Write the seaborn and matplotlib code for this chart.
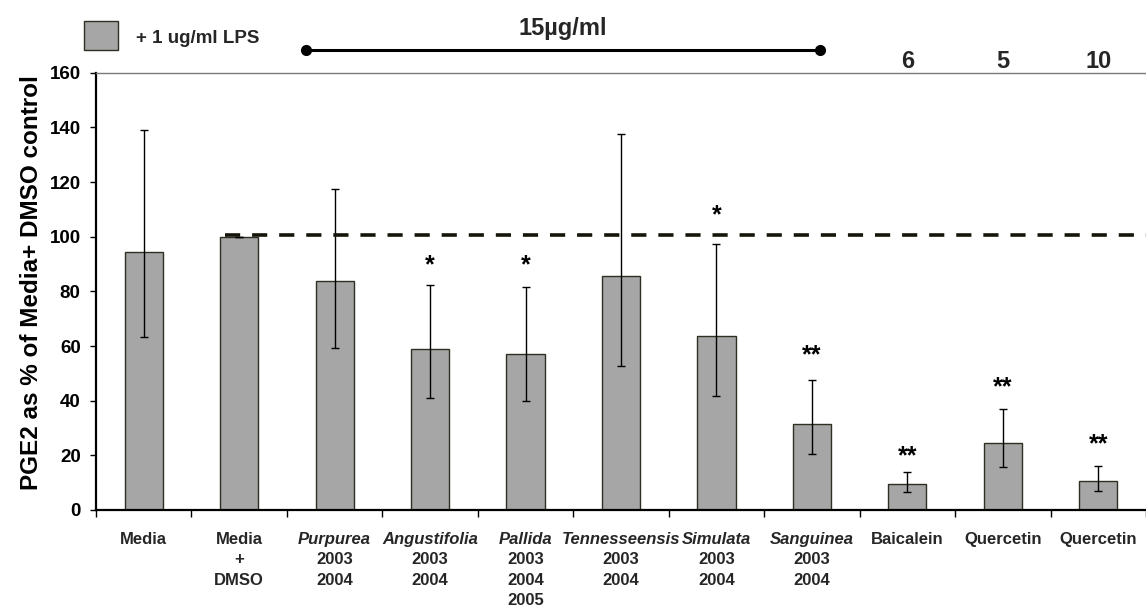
import numpy as np
import pandas as pd
import matplotlib
matplotlib.use("Agg")
import matplotlib.pyplot as plt
import matplotlib.transforms as mtransforms
from matplotlib.patches import Rectangle
from matplotlib.lines import Line2D
import seaborn as sns

# ---------------- data ----------------
categories = ["Media", "Media + DMSO", "Purpurea", "Angustifolia", "Pallida",
              "Tennesseensis", "Simulata", "Sanguinea", "Baicalein",
              "Quercetin 5", "Quercetin 10"]
label_main = ["Media", "Media", "Purpurea", "Angustifolia", "Pallida",
              "Tennesseensis", "Simulata", "Sanguinea", "Baicalein",
              "Quercetin", "Quercetin"]
label_italic = [False, False, True, True, True, True, True, True, False, False, False]
label_sub = [[], ["+", "DMSO"], ["2003", "2004"], ["2003", "2004"],
             ["2003", "2004", "2005"], ["2003", "2004"], ["2003", "2004"],
             ["2003", "2004"], [], [], []]
values = [94.5, 100.0, 83.9, 58.8, 57.0, 85.6, 63.8, 31.5, 9.6, 24.5, 10.6]
err_upper = [139.0, 100.0, 117.3, 82.3, 81.5, 137.6, 97.2, 47.7, 13.8, 37.1, 16.1]
err_lower = [63.4, 100.0, 59.4, 41.1, 39.8, 52.8, 41.7, 20.4, 6.5, 15.7, 6.8]
significance = ["", "", "", "*", "*", "", "*", "**", "**", "**", "**"]
sig_height = [0, 0, 0, 89.5, 89.5, 0, 108.0, 56.5, 19.5, 45.0, 24.0]
dose_labels = {"Baicalein": "6", "Quercetin 5": "5", "Quercetin 10": "10"}
extract_dose = "15µg/ml"
legend_label = "+ 1 ug/ml LPS"
reference_value = 100.5
y_ticks = [0, 20, 40, 60, 80, 100, 120, 140, 160]
y_label = "PGE2 as % of Media+ DMSO control"

# ---------------- style ----------------
sns.set_theme(style="white")
plt.rcParams["font.family"] = ["Liberation Sans", "DejaVu Sans"]
plt.rcParams["font.weight"] = "bold"

W, H = 1146, 609
fig = plt.figure(figsize=(W / 100, H / 100), dpi=100)
ax = fig.add_axes([96 / W, 1 - 510 / H, (1146 - 96) / W, (510 - 72.7) / H])

bar_color = "#a6a6a6"
edge_color = "#2e2e22"

df = pd.DataFrame({"cat": categories, "val": values})
sns.barplot(data=df, x="cat", y="val", order=categories, color=bar_color,
            width=0.4, edgecolor=edge_color, linewidth=1.0, saturation=1,
            errorbar=None, ax=ax)

xpos = np.arange(len(categories))
vals = np.array(values)
yerr = np.vstack([vals - np.array(err_lower), np.array(err_upper) - vals])
ax.errorbar(xpos, vals, yerr=yerr, fmt="none", ecolor="black",
            elinewidth=1.0, capsize=3, capthick=1.0, zorder=4)

# reference dashed line
ax.hlines(reference_value, 0.85, len(categories) - 0.5, colors="#15150a",
          linewidth=2.6, linestyles=(0, (4.2, 3.3)), zorder=5)

# significance markers
for i, (s, h) in enumerate(zip(significance, sig_height)):
    if s:
        ax.text(i, h, s, ha="center", va="center", fontsize=18,
                fontweight="bold", color="black")

ax.set_xlim(-0.5, len(categories) - 0.5)
ax.set_ylim(0, 160)
ax.set_yticks(y_ticks)
ax.set_yticklabels([str(t) for t in y_ticks], fontsize=13.5, fontweight="bold")
ax.set_xticks(xpos)
ax.set_xticklabels([])
ax.tick_params(axis="x", which="major", length=0)
ax.set_xticks(np.arange(-0.5, len(categories)), minor=True)
ax.tick_params(axis="x", which="minor", direction="out", length=5, width=1,
               color="black", bottom=True)
ax.tick_params(axis="y", direction="out", length=4, width=1, color="black",
               left=True, pad=7, labelcolor="black")
ax.set_xlabel("")
ax.set_ylabel(y_label, fontsize=17.5, fontweight="bold", color="black")
ax.yaxis.set_label_coords(-0.05, 0.52)

for side in ["left", "bottom"]:
    ax.spines[side].set_color("black")
    ax.spines[side].set_linewidth(1.6)
ax.spines["top"].set_color("#7a7a7a")
ax.spines["top"].set_linewidth(1.0)
ax.spines["right"].set_visible(False)

# category labels (mixed italic / regular)
trans = ax.get_xaxis_transform()
axh = 510 - 72.7
base0 = -(544 - 510) / axh
pitch = 20.3 / axh
for i in range(len(categories)):
    ax.text(i, base0, label_main[i], transform=trans, ha="center",
            va="baseline", fontsize=12, fontweight="bold",
            style="italic" if label_italic[i] else "normal", clip_on=False)
    for j, line in enumerate(label_sub[i]):
        ax.text(i, base0 - (j + 1) * pitch, line, transform=trans,
                ha="center", va="baseline", fontsize=12, fontweight="bold",
                clip_on=False)

# top annotations: dose line and numbers
top_trans = mtransforms.blended_transform_factory(ax.transData, fig.transFigure)
y_line = 1 - 50 / H
ax.add_line(Line2D([1.7, 7.08], [y_line, y_line], transform=top_trans,
                   color="black", linewidth=2.2, marker="o", markersize=7,
                   clip_on=False))
ax.text((1.7 + 7.08) / 2, 1 - 35 / H, extract_dose, transform=top_trans,
        ha="center", va="baseline", fontsize=17, fontweight="bold",
        clip_on=False)
for cat, lab in dose_labels.items():
    i = categories.index(cat)
    ax.text(i, 1 - 68.5 / H, lab, transform=top_trans, ha="center",
            va="baseline", fontsize=17, fontweight="bold", clip_on=False)

# legend
fig.add_artist(Rectangle((84 / W, 1 - 50 / H), 34 / W, 29 / H,
                         transform=fig.transFigure, facecolor=bar_color,
                         edgecolor=edge_color, linewidth=1.0))
fig.text(136 / W, 1 - 43 / H, legend_label, ha="left", va="baseline",
         fontsize=13.5, fontweight="bold")

fig.savefig("out.png", dpi=100, facecolor="white")
